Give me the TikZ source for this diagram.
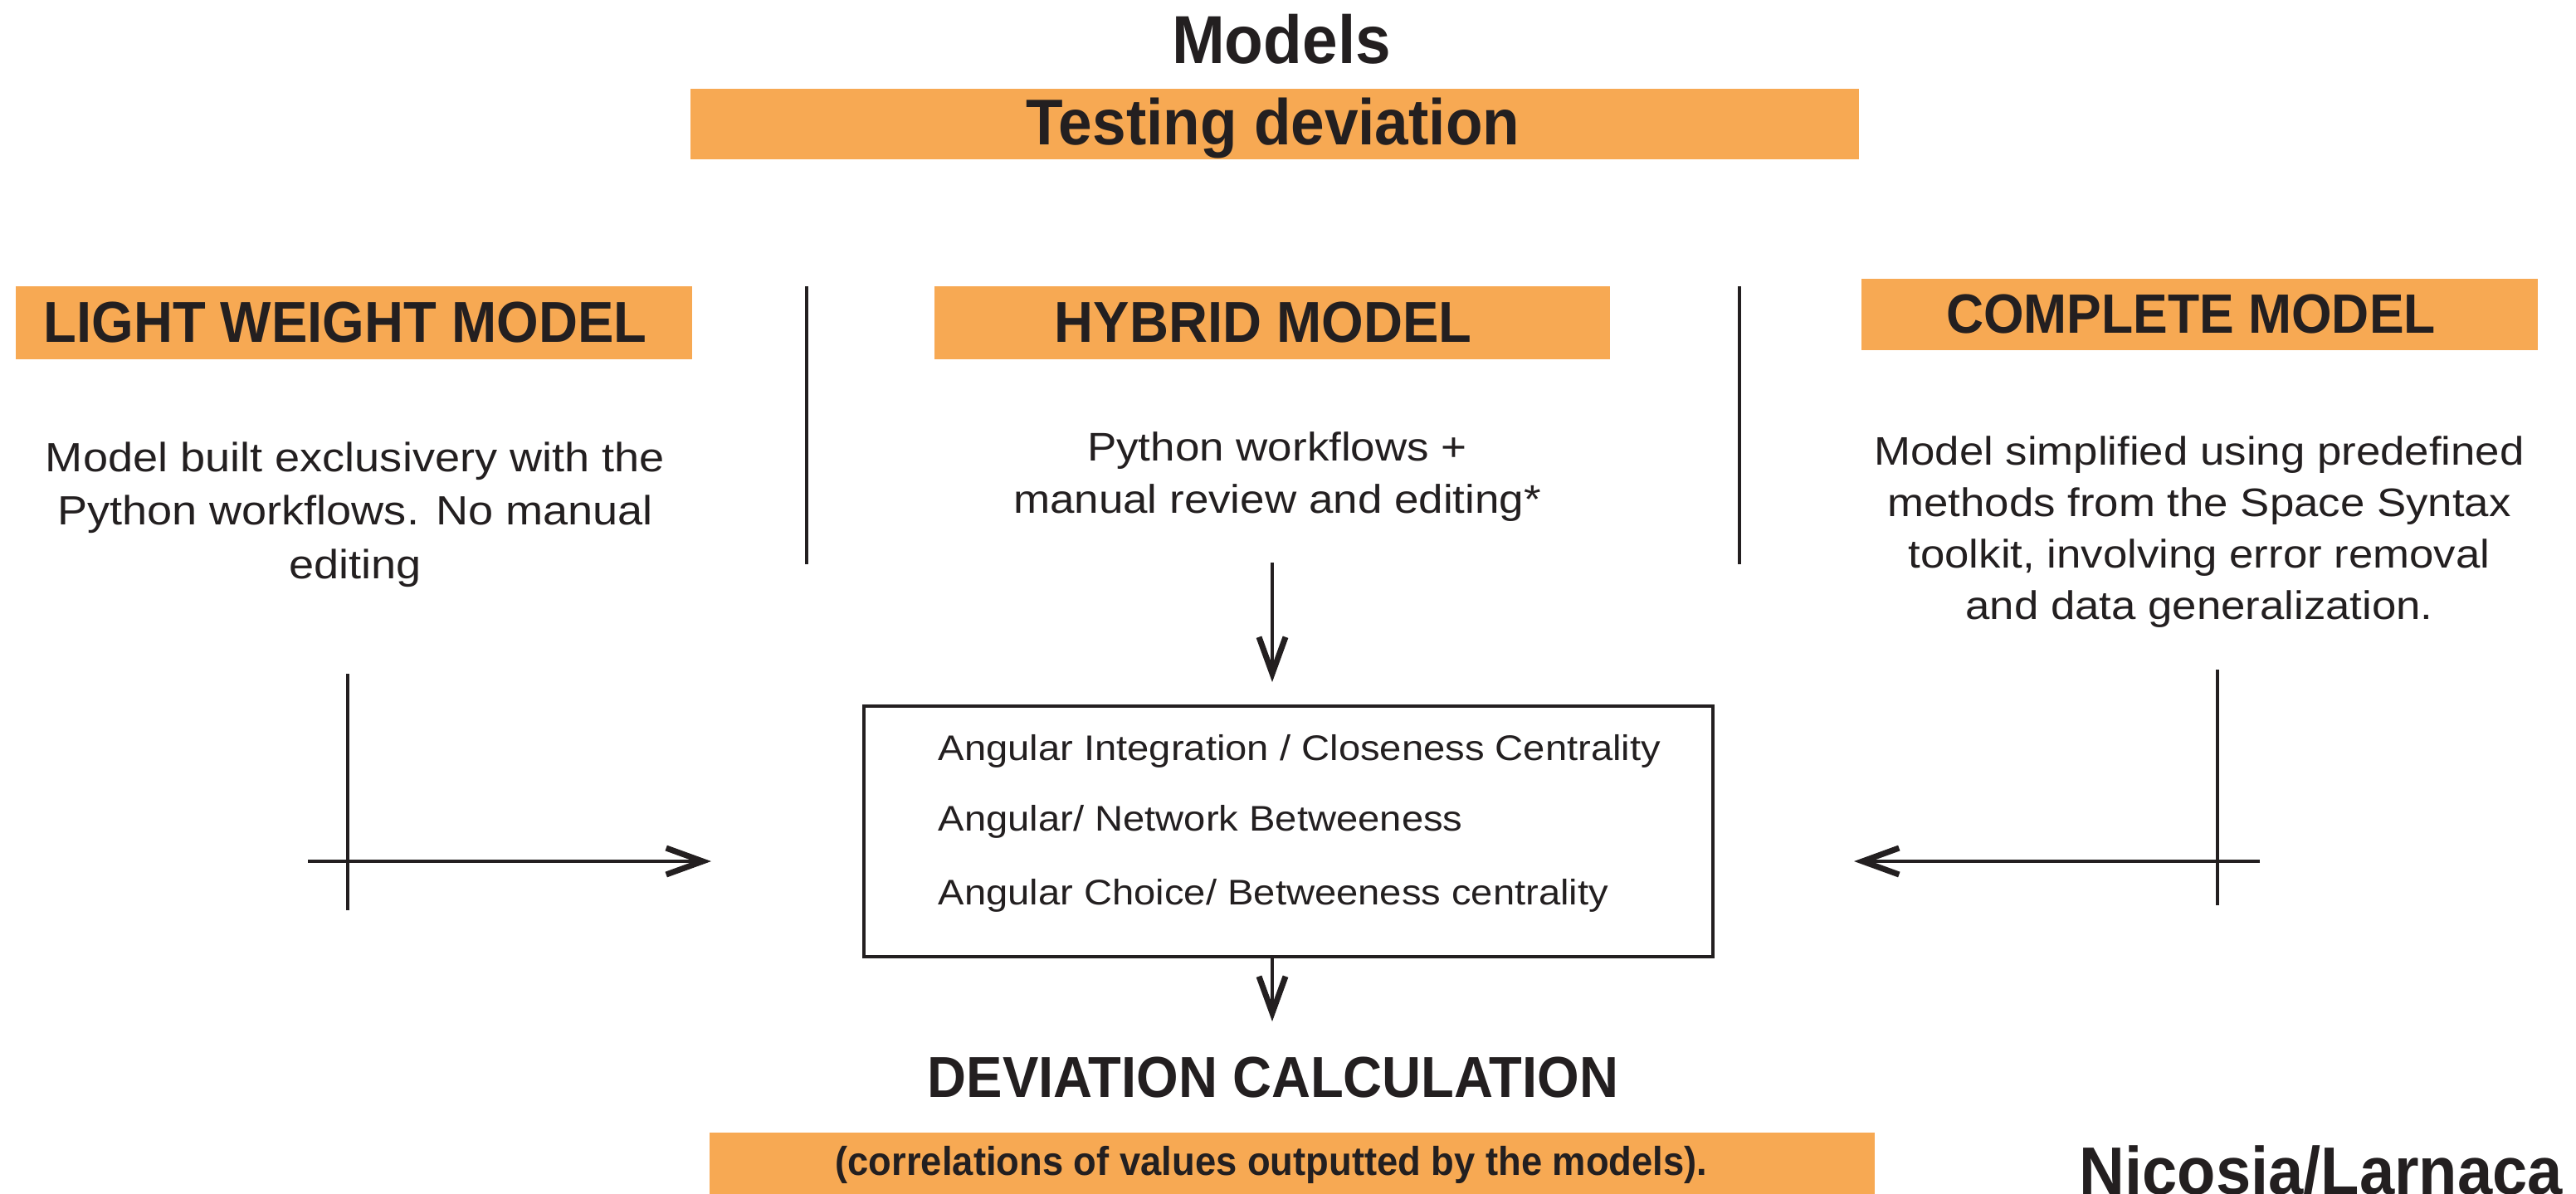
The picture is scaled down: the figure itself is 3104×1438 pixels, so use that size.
\documentclass[tikz,border=0pt]{standalone}
\usepackage{fontspec}
\setmainfont{Liberation Sans}
\newfontfamily\headfont{Liberation Sans}[FakeStretch=0.935]
\newfontfamily\bodyfont{Liberation Sans}[FakeStretch=1.1]
\usetikzlibrary{arrows.meta}
\definecolor{barorange}{RGB}{247,169,83}
\definecolor{ink}{RGB}{35,31,32}

\tikzset{
  bar/.style={rectangle, fill=barorange, draw=none, inner sep=0pt},
  lbl/.style={inner sep=0pt, anchor=base, text=ink},
  title/.style={lbl, font=\headfont\bfseries\fontsize{23.3pt}{26pt}\selectfont},
  subtitle/.style={lbl, font=\headfont\bfseries\fontsize{22.2pt}{26pt}\selectfont},
  head/.style={lbl, font=\headfont\bfseries\fontsize{19.8pt}{22pt}\selectfont},
  desc/.style={lbl, font=\bodyfont\fontsize{13.8pt}{18pt}\selectfont},
  metric/.style={lbl, anchor=base west, font=\bodyfont\fontsize{12.2pt}{15pt}\selectfont},
  rule/.style={draw=ink, line width=1.05pt},
  arrowline/.style={rule, -{Straight Barb[length=4.4mm,width=3.2mm,line width=2pt]}},
}

\begin{document}
\begin{tikzpicture}[x=0.1mm, y=-0.1mm]
\useasboundingbox (0,0) rectangle (3104,1438);
\clip (0,0) rectangle (3104,1438);

% title and subtitle bar
\node[title] (models) at (1544,76) {Models};
\node[bar, minimum width=140.8mm, minimum height=8.5mm] (testbar) at (1536,149.5) {};
\node[subtitle] (testing) at (1534,174) {Testing deviation};

% model headers
\node[bar, minimum width=81.5mm, minimum height=8.8mm] (lightbar) at (426.5,389) {};
\node[head] (lighthead) at (416,412) {LIGHT WEIGHT MODEL};
\node[bar, minimum width=81.4mm, minimum height=8.8mm] (hybbar) at (1533,389) {};
\node[head] (hybhead) at (1522,412) {HYBRID MODEL};
\node[bar, minimum width=81.5mm, minimum height=8.6mm] (compbar) at (2650.5,379) {};
\node[head, font=\headfont\bfseries\fontsize{19.0pt}{22pt}\selectfont] (comphead) at (2640,401) {COMPLETE MODEL};

% column dividers
\coordinate (divAtop) at (972,345);
\coordinate (divAbot) at (972,680);
\coordinate (divBtop) at (2096,345);
\coordinate (divBbot) at (2096,680);
\draw[rule] (divAtop) -- (divAbot);
\draw[rule] (divBtop) -- (divBbot);

% model descriptions
\foreach \t [count=\i] in {Model built exclusivery with the, Python workflows. No manual, editing}
  \node[desc, font=\bodyfont\fontsize{14.0pt}{18pt}\selectfont] (lightdesc\i) at (428,{568+(\i-1)*64.5}) {\t};
\foreach \t [count=\i] in {Python workflows +, manual review and editing*}
  \node[desc, font=\bodyfont\fontsize{13.7pt}{18pt}\selectfont] (hybdesc\i) at (1539,{555+(\i-1)*63}) {\t};
\foreach \t [count=\i] in {Model simplified using predefined, methods from the Space Syntax, {toolkit, involving error removal}, and data generalization.}
  \node[desc, font=\bodyfont\fontsize{13.65pt}{18pt}\selectfont] (compdesc\i) at (2650,{560+(\i-1)*62.3}) {\t};

% measures box
\node[draw=ink, line width=1.2pt, minimum width=102.3mm, minimum height=30.2mm, inner sep=0pt] (box) at (1552.5,1002) {};
\node[metric] (m1) at (1130,916) {Angular Integration / Closeness Centrality};
\node[metric] (m2) at (1130,1001) {Angular/ Network Betweeness};
\node[metric] (m3) at (1130,1090) {Angular Choice/ Betweeness centrality};

% hybrid model into the box
\coordinate (hybtail) at (1533,678);
\coordinate (hybtip) at (1533,822);
\draw[arrowline] (hybtail) -- (hybtip);

% left branch
\coordinate (ltop) at (419,812);
\coordinate (lbot) at (419,1097);
\coordinate (lstart) at (371,1038);
\coordinate (ltip) at (857,1038);
\draw[rule] (ltop) -- (lbot);
\draw[arrowline] (lstart) -- (ltip);

% right branch
\coordinate (rtop) at (2672,807);
\coordinate (rbot) at (2672,1091);
\coordinate (rstart) at (2723,1038);
\coordinate (rtip) at (2234,1038);
\draw[rule] (rtop) -- (rbot);
\draw[arrowline] (rstart) -- (rtip);

% deviation step
\coordinate (devtip) at (1533,1231);
\draw[arrowline] (box.south -| devtip) -- (devtip);
\node[head] (devcalc) at (1534,1322) {DEVIATION CALCULATION};
\node[bar, minimum width=140.4mm, minimum height=8.0mm] (corrbar) at (1557,1405) {};
\node[lbl, font=\headfont\bfseries\fontsize{13.8pt}{16pt}\selectfont] (corr) at (1532,1416) {(correlations of values outputted by the models).};

% place name, running off the lower edge
\node[lbl, anchor=base west, font=\headfont\bfseries\fontsize{23.1pt}{26pt}\selectfont] (place) at (2505,1439) {Nicosia/Larnaca};
\end{tikzpicture}
\end{document}
